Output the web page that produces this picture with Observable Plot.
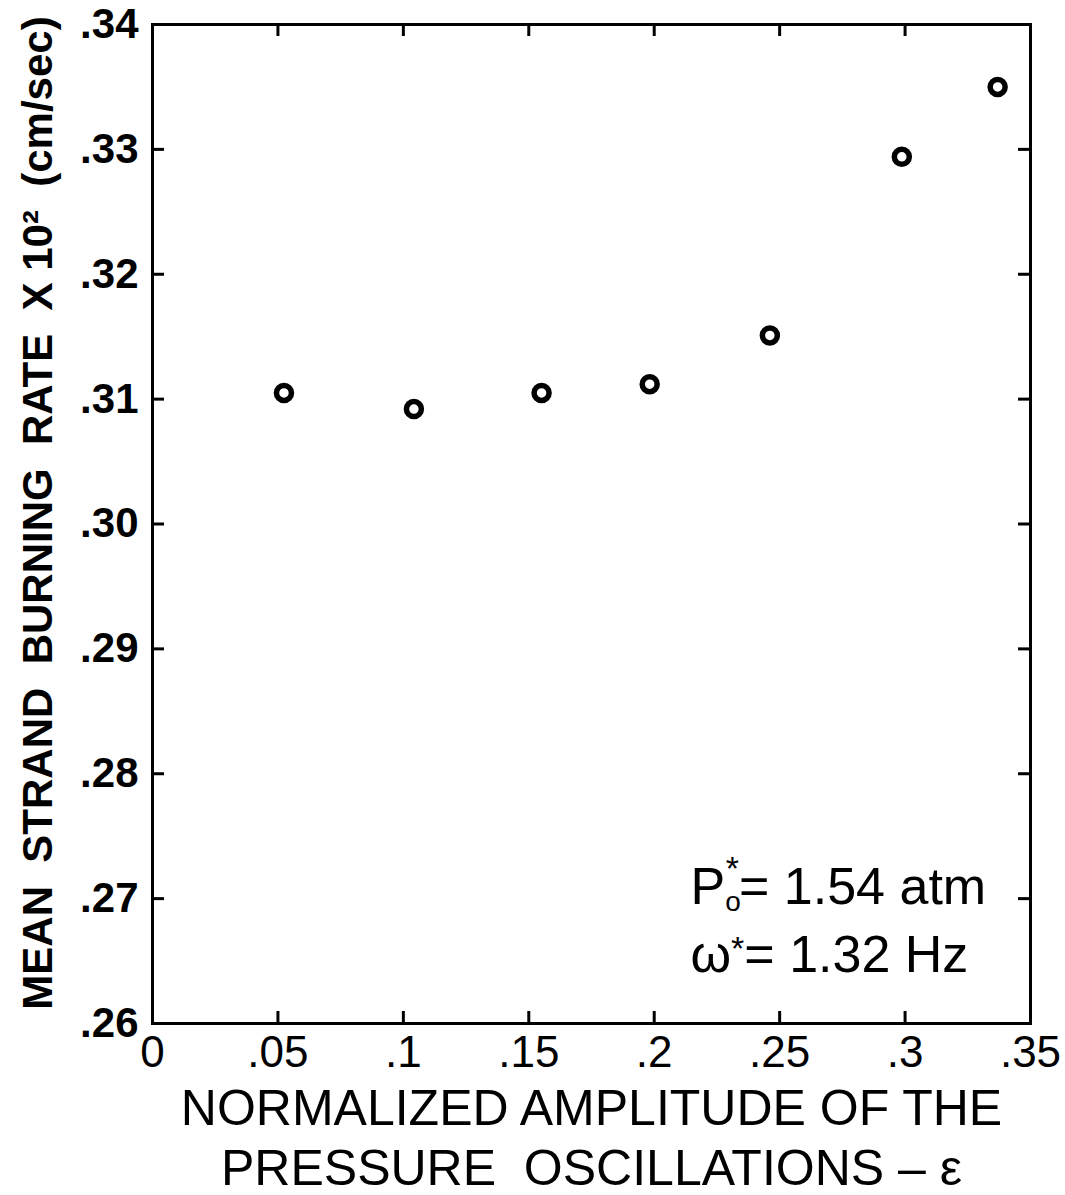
<!DOCTYPE html>
<html>
<head>
<meta charset="utf-8">
<script src="https://cdn.jsdelivr.net/npm/d3@7"></script>
<script src="https://cdn.jsdelivr.net/npm/@observablehq/plot@0.6"></script>
<style>
  html, body { margin: 0; padding: 0; background: #fff; }
  svg { display: block; }
</style>
</head>
<body>
<div id="chart"></div>
<script>
// Data
const amplitude = [0.0524, 0.1042, 0.1551, 0.1982, 0.2461, 0.2987, 0.3369];
const burningRate = [0.3105, 0.3092, 0.3105, 0.3112, 0.3151, 0.3294, 0.3350];
const xTicks = [0, 0.05, 0.1, 0.15, 0.2, 0.25, 0.3, 0.35];
const yTicks = [0.26, 0.27, 0.28, 0.29, 0.30, 0.31, 0.32, 0.33, 0.34];
const xTitle = "NORMALIZED AMPLITUDE OF THE\nPRESSURE  OSCILLATIONS – \u03B5";
const yTitle = "MEAN  STRAND  BURNING  RATE  X 10\u00B2  (cm/sec)";
const noteSymbols = ["P", "\u03C9"];
const noteSubs = ["o", ""];
const noteValues = ["= 1.54 atm", "= 1.32 Hz"];

const points = amplitude.map((a, i) => ({x: a, y: burningRate[i]}));
const xFmt = d => d === 0 ? "0" : String(+d.toFixed(2)).replace(/^0/, "");
const yFmt = d => d.toFixed(2).replace(/^0/, "");
const font = "'Liberation Sans', Arial, sans-serif";

const W = 1065, H = 1195, mL = 152, mR = 35, mT = 24, mB = 172;
const fw = W - mL - mR, fh = H - mT - mB, tk = 12;

const chart = Plot.plot({
  width: W,
  height: H,
  marginLeft: mL,
  marginRight: mR,
  marginTop: mT,
  marginBottom: mB,
  style: {fontFamily: font, color: "#000", background: "#fff"},
  x: {domain: [0, 0.35]},
  y: {domain: [0.26, 0.34]},
  marks: [
    Plot.axisX({anchor: "bottom", ticks: xTicks, tickSize: 0, tickPadding: 12, tickFormat: xFmt, fontSize: 44, label: null}),
    Plot.axisY({anchor: "left", ticks: yTicks, tickSize: 0, tickPadding: 14, tickFormat: yFmt, fontSize: 42, fontWeight: "bold", label: null}),
    // inward ticks on all four sides
    Plot.tickX(xTicks, {x: d => d, insetTop: fh - tk, stroke: "#000", strokeWidth: 3}),
    Plot.tickX(xTicks, {x: d => d, insetBottom: fh - tk, stroke: "#000", strokeWidth: 3}),
    Plot.tickY(yTicks, {y: d => d, insetRight: fw - tk, stroke: "#000", strokeWidth: 3}),
    Plot.tickY(yTicks, {y: d => d, insetLeft: fw - tk, stroke: "#000", strokeWidth: 3}),
    Plot.frame({stroke: "#000", strokeWidth: 3}),
    Plot.dot(points, {x: "x", y: "y", r: 7.5, stroke: "#000", strokeWidth: 5.5, fill: "none"}),
    Plot.text([xTitle], {frameAnchor: "bottom", dy: 112, fontSize: 50, lineHeight: 1.2, lineAnchor: "middle", textAnchor: "middle", text: d => d, fill: "#000"}),
    Plot.text([yTitle], {frameAnchor: "left", dx: -114, dy: -11, rotate: -90, textAnchor: "middle", fontSize: 42, fontWeight: "bold", text: d => d, fill: "#000"}),
    Plot.text([0], {frameAnchor: "bottom-left", dx: 538, dy: -120, fontSize: 52, textAnchor: "start", text: i => noteSymbols[i] + noteValues[i], fill: "#000"}),
    Plot.text([1], {frameAnchor: "bottom-left", dx: 538, dy: -52, fontSize: 52, textAnchor: "start", text: i => noteSymbols[i] + noteValues[i], fill: "#000"})
  ]
});

document.getElementById("chart").appendChild(chart);

// typeset sub/superscripts of the annotation
const svg = d3.select(chart);
svg.selectAll("text").each(function() {
  const s = this.textContent;
  const i = noteSymbols.findIndex((sym, j) => s === sym + noteValues[j]);
  if (i < 0) return;
  const t = d3.select(this);
  t.text(null);
  t.append("tspan").text(noteSymbols[i]);
  if (noteSubs[i]) {
    t.append("tspan").attr("dy", 7).attr("font-size", 28).text(noteSubs[i]);
    t.append("tspan").attr("dx", -15).attr("dy", -31).attr("font-size", 34).text("*");
    t.append("tspan").attr("dy", 24).text(noteValues[i]);
  } else {
    t.append("tspan").attr("dy", -12).attr("font-size", 34).text("*");
    t.append("tspan").attr("dy", 12).text(noteValues[i]);
  }
});
</script>
</body>
</html>
